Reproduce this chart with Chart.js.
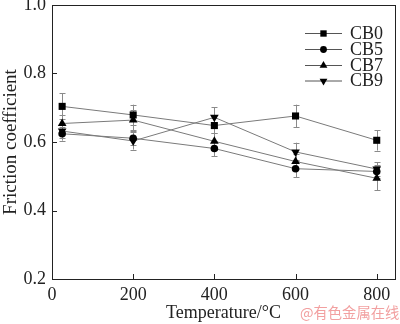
<!DOCTYPE html>
<html>
<head>
<meta charset="utf-8">
<script src="https://cdn.jsdelivr.net/npm/chart.js@4/dist/chart.umd.min.js"></script>
<style>
  html, body { margin: 0; padding: 0; background: #fff; }
  #wrap { position: relative; width: 400px; height: 324px; }
  #mark {
    position: absolute; left: 300px; top: 301px;
    font: 14.3px "Noto Sans CJK SC", sans-serif; color: #f2a0a0; white-space: nowrap;
  }
</style>
</head>
<body>
<div id="wrap">
  <canvas id="frictionChart" width="400" height="324"></canvas>
  <span id="mark">@有色金属在线</span>
</div>
<script>
// temperatures (x) and tick labels
const temps = [25, 200, 400, 600, 800];
const xTicks = [0, 200, 400, 600, 800];
const yTicks = [0.2, 0.4, 0.6, 0.8, 1.0];

const seriesNames = ['CB0', 'CB5', 'CB7', 'CB9'];

// friction coefficient per sample
const cb0 = [0.704, 0.679, 0.648, 0.676, 0.605];
const cb5 = [0.624, 0.611, 0.581, 0.522, 0.514];
const cb7 = [0.654, 0.664, 0.602, 0.543, 0.494];
const cb9 = [0.632, 0.603, 0.672, 0.571, 0.521];

// error bar half widths
const cb0Err = [0.038, 0.030, 0.022, 0.033, 0.030];
const cb5Err = [0.020, 0.020, 0.022, 0.025, 0.020];
const cb7Err = [0.025, 0.030, 0.025, 0.022, 0.035];
const cb9Err = [0.020, 0.025, 0.030, 0.027, 0.020];

const markers = [
    { style: 'rect', radius: 5, rotation: 0 },
    { style: 'circle', radius: 3.8, rotation: 0 },
    { style: 'triangle', radius: 5, rotation: 0 },
    { style: 'triangle', radius: 5, rotation: 180 },
];

const values = [cb0, cb5, cb7, cb9];
const errors = [cb0Err, cb5Err, cb7Err, cb9Err];

const serif = "'Liberation Serif', 'DejaVu Serif', serif";

const datasets = seriesNames.map((name, i) => ({
    label: name,
    data: temps.map((t, j) => ({ x: t, y: values[i][j] })),
    errors: errors[i],
    borderColor: '#7a7a7a',
    borderWidth: 1,
    backgroundColor: '#000',
    pointBackgroundColor: '#000',
    pointBorderColor: '#000',
    pointBorderWidth: 0,
    pointStyle: markers[i].style,
    pointRadius: markers[i].radius,
    pointRotation: markers[i].rotation,
    fill: false,
    tension: 0,
}));

// error bars, frame, inward ticks and legend
const decorations = {
    id: 'decorations',
    beforeDatasetsDraw(chart) {
        const ctx = chart.ctx;
        const yScale = chart.scales.y;
        ctx.save();
        ctx.strokeStyle = '#8a8a8a';
        ctx.lineWidth = 1;
        chart.data.datasets.forEach((ds, i) => {
            const meta = chart.getDatasetMeta(i);
            meta.data.forEach((pt, j) => {
                const v = ds.data[j].y;
                const e = ds.errors[j];
                const top = yScale.getPixelForValue(v + e);
                const bot = yScale.getPixelForValue(v - e);
                const x = Math.round(pt.x) + 0.5;
                ctx.beginPath();
                ctx.moveTo(x, top);
                ctx.lineTo(x, bot);
                ctx.moveTo(x - 3, Math.round(top) + 0.5);
                ctx.lineTo(x + 3, Math.round(top) + 0.5);
                ctx.moveTo(x - 3, Math.round(bot) + 0.5);
                ctx.lineTo(x + 3, Math.round(bot) + 0.5);
                ctx.stroke();
            });
        });
        ctx.restore();
    },
    afterDraw(chart) {
        const ctx = chart.ctx;
        const a = chart.chartArea;
        ctx.save();
        ctx.strokeStyle = '#222';
        ctx.lineWidth = 1;
        ctx.strokeRect(Math.round(a.left) + 0.5, Math.round(a.top) + 0.5,
            Math.round(a.right - a.left), Math.round(a.bottom - a.top));

        ctx.beginPath();
        xTicks.forEach(t => {
            const x = Math.round(chart.scales.x.getPixelForValue(t)) + 0.5;
            ctx.moveTo(x, a.bottom);
            ctx.lineTo(x, a.bottom - 5);
        });
        yTicks.forEach(t => {
            const y = Math.round(chart.scales.y.getPixelForValue(t)) + 0.5;
            ctx.moveTo(a.left, y);
            ctx.lineTo(a.left + 5, y);
        });
        ctx.stroke();

        // legend
        const rows = [33, 49, 65, 80.5];
        ctx.font = '18px ' + serif;
        ctx.textBaseline = 'middle';
        ctx.textAlign = 'left';
        chart.data.datasets.forEach((ds, i) => {
            const y = rows[i];
            ctx.strokeStyle = '#555';
            ctx.beginPath();
            ctx.moveTo(305, y + 0.5);
            ctx.lineTo(342, y + 0.5);
            ctx.stroke();
            ctx.fillStyle = '#000';
            Chart.helpers.drawPoint(ctx, {
                pointStyle: ds.pointStyle,
                radius: ds.pointRadius * 0.9,
                rotation: ds.pointRotation,
                borderWidth: 0,
            }, 323.5, y + 0.5);
            ctx.fillStyle = '#222';
            ctx.fillText(ds.label, 350, y + 1);
        });
        ctx.restore();
    }
};

const ctx = document.getElementById('frictionChart').getContext('2d');

const frictionChart = new Chart(ctx, {
    type: 'line',
    data: { datasets: datasets },
    plugins: [decorations],
    options: {
        responsive: false,
        animation: false,
        layout: { padding: { top: 3, right: 3, left: 0, bottom: 0 } },
        plugins: {
            legend: { display: false },
            tooltip: { enabled: false },
        },
        scales: {
            x: {
                type: 'linear',
                min: 0,
                max: 845,
                afterBuildTicks: scale => { scale.ticks = xTicks.map(v => ({ value: v })); },
                afterFit: scale => {
                    scale.height = 45;
                    scale.paddingLeft = 0;
                    scale.paddingRight = 0;
                },
                grid: { drawOnChartArea: false, drawTicks: false },
                border: { display: false },
                ticks: {
                    padding: 5,
                    color: '#222',
                    font: { family: serif, size: 18 },
                    maxRotation: 0,
                },
                title: {
                    display: true,
                    text: 'Temperature/°C',
                    color: '#222',
                    font: { family: serif, size: 18 },
                    padding: { top: 0, bottom: 0 },
                },
            },
            y: {
                type: 'linear',
                min: 0.2,
                max: 1.0,
                afterBuildTicks: scale => { scale.ticks = yTicks.map(v => ({ value: v })); },
                afterFit: scale => {
                    scale.width = 52;
                    scale.paddingTop = 0;
                    scale.paddingBottom = 0;
                },
                grid: { drawOnChartArea: false, drawTicks: false },
                border: { display: false },
                ticks: {
                    padding: 6,
                    color: '#222',
                    font: { family: serif, size: 18 },
                    callback: v => v.toFixed(1),
                },
                title: {
                    display: true,
                    text: 'Friction coefficient',
                    color: '#222',
                    font: { family: serif, size: 19 },
                    padding: { top: 0, bottom: 0 },
                },
            },
        },
    },
});
</script>
</body>
</html>
